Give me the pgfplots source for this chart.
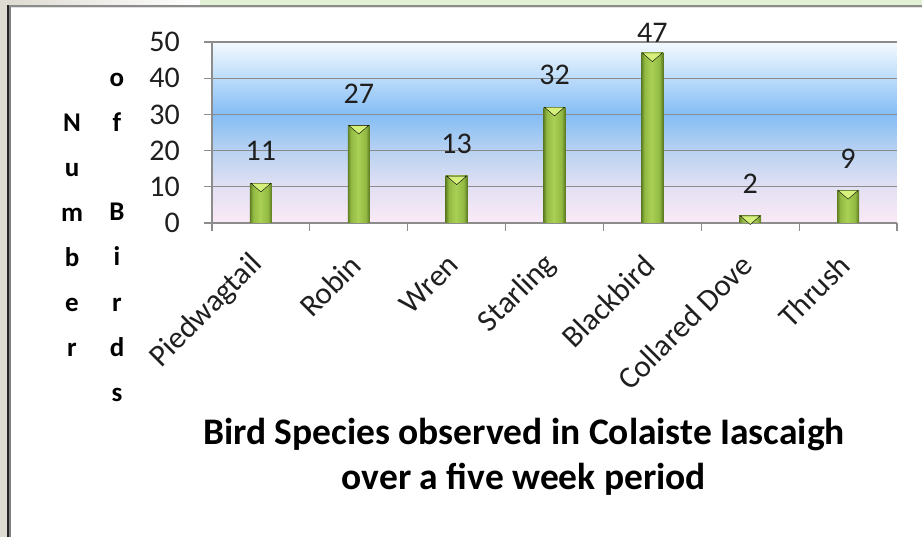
\documentclass[border=0pt]{standalone}
\usepackage{pgfplots}
\pgfplotsset{compat=1.18}
\usepackage{pgfplotstable}
\usepackage{fontspec}
\setmainfont{Carlito}

\definecolor{framebeige}{HTML}{DEDBD2}
\definecolor{topgreen}{HTML}{E2F0D3}
\definecolor{gridgray}{HTML}{8C8C8C}
\definecolor{bgA}{HTML}{FBEAF6}
\definecolor{bgB}{HTML}{E2E0F3}
\definecolor{bgC}{HTML}{B8D2F1}
\definecolor{bgD}{HTML}{84BDF5}
\definecolor{bgE}{HTML}{BCDCFA}
\definecolor{bgF}{HTML}{F4F9FE}
\definecolor{barD}{HTML}{607F24}
\definecolor{barM}{HTML}{92B942}
\definecolor{barL}{HTML}{AAD055}
\definecolor{barDD}{HTML}{58761F}
\definecolor{barHL}{HTML}{D6F07C}

\pgfdeclareverticalshading{plotbg}{100bp}{color(0bp)=(bgA); color(25bp)=(bgA); color(35bp)=(bgB); color(45bp)=(bgC); color(55bp)=(bgD); color(65bp)=(bgE); color(75bp)=(bgF); color(100bp)=(bgF)}
\pgfdeclarehorizontalshading{barsh}{100bp}{color(0bp)=(barD); color(25bp)=(barD); color(32bp)=(barM); color(48bp)=(barL); color(66bp)=(barM); color(75bp)=(barDD); color(100bp)=(barDD)}

\pgfplotstableread{
x y dy
0 11 22
1 27 22
2 13 22
3 32 22
4 47 10
5 2 22
6 9 22
}\birds

\newcommand\tfont{\fontsize{30}{31}\selectfont}

\begin{document}
\begin{tikzpicture}
\path[use as bounding box] (0,0) rectangle (922pt,537pt);
% frame
\fill[framebeige] (0,0) rectangle (7pt,537pt);
\shade[left color=framebeige, right color=white] (7pt,532pt) rectangle (200pt,537pt);
\fill[topgreen] (200pt,532pt) rectangle (922pt,537pt);
\fill[gridgray] (8pt,529.5pt) rectangle (922pt,532pt);
\fill[black!12] (8pt,528.5pt) rectangle (922pt,529.5pt);
\fill[black!85] (7pt,0) rectangle (8.5pt,532pt);
\fill[gray] (8.5pt,0) rectangle (11pt,529.5pt);

\begin{axis}[
  at={(212pt,314pt)}, anchor=south west,
  scale only axis, width=685pt, height=181pt,
  xmin=-0.5, xmax=6.5, ymin=0, ymax=50,
  /pgf/number format/assume math mode=true,
  ytick={0,10,...,50},
  xtick={-0.5,0.5,...,6.5}, xticklabels={},
  extra x ticks={0,1,2,3,4,5,6},
  extra x tick labels={Piedwagtail,Robin,Wren,Starling,Blackbird,Collared Dove,Thrush},
  extra x tick style={major tick length=0pt},
  axis x line*=bottom, axis y line*=left,
  axis line style={draw=gridgray, line width=1.2pt},
  ymajorgrids, grid style={draw=gridgray, line width=1.2pt},
  tick style={draw=gridgray, line width=1.2pt},
  major tick length=8pt, tick align=outside,
  axis background/.style={shading=plotbg},
  ticklabel style={font=\tfont, text=black!88},
  yticklabel style={inner sep=0pt, xshift=-24pt},
  xticklabel style={inner sep=0pt, xshift=-3pt, yshift=-37pt, rotate=45, anchor=east, font=\fontsize{31}{32}\selectfont},
  clip=false,
  barst/.style={ybar, bar width=22pt, draw=none, shading=barsh, forget plot},
]
\addplot[barst] coordinates {(0,11)};
\addplot[barst] coordinates {(1,27)};
\addplot[barst] coordinates {(2,13)};
\addplot[barst] coordinates {(3,32)};
\addplot[barst] coordinates {(4,47)};
\addplot[barst] coordinates {(5,2)};
\addplot[barst] coordinates {(6,9)};
\addplot[only marks, mark=triangle*, mark size=11.5pt,
  mark options={yshift=-3pt, rotate=180, yscale=0.5, fill=barHL, draw=none}]
  table[x=x,y=y]{\birds};
\addplot[draw=none, mark=none, nodes near coords,
  visualization depends on={\thisrow{dy}\as\dy},
  every node near coord/.append style={anchor=south, inner sep=0pt, yshift=\dy pt, font=\tfont, text=black!88}]
  table[x=x,y=y]{\birds};
\end{axis}

% y label: two stacked columns
\foreach \c [count=\i from 0] in {N,u,m,b,e,r}
  \node[anchor=base, font=\fontsize{27}{27}\bfseries\selectfont, inner sep=0pt] at (72pt, {537pt-132pt-\i*45pt}) {\c};
\foreach \c/\yy in {o/87,f/132,B/221,i/266,r/312,d/357,s/402}
  \node[anchor=base, font=\fontsize{27}{27}\bfseries\selectfont, inner sep=0pt] at (117pt, {537pt-\yy pt}) {\c};

% x title
\node[anchor=base, font=\fontsize{37.5}{38}\bfseries\selectfont, inner sep=0pt] at (524pt, {537pt-445pt}) {Bird Species observed in Colaiste Iascaigh};
\node[anchor=base, font=\fontsize{37.5}{38}\bfseries\selectfont, inner sep=0pt] at (524pt, {537pt-490pt}) {over a five week period};
\end{tikzpicture}
\end{document}
